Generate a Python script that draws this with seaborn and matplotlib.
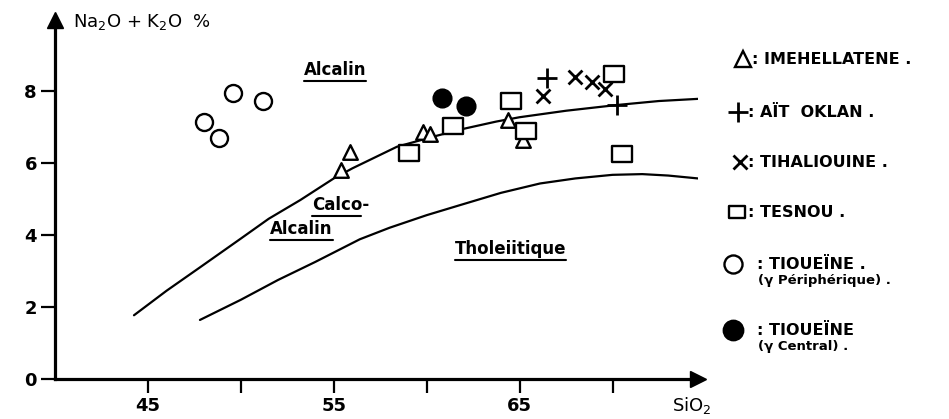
import numpy as np
import pandas as pd
import matplotlib
matplotlib.use("Agg")
import matplotlib.pyplot as plt
from matplotlib.lines import Line2D
from matplotlib.path import Path
import seaborn as sns

# SiO2 / Na2O+K2O values
imeh_x = [55.4, 55.9, 59.8, 60.2, 64.4, 65.2]
imeh_y = [5.8, 6.3, 6.85, 6.8, 7.2, 6.65]
oklan_x = [66.5, 70.25]
oklan_y = [8.35, 7.6]
tihal_x = [66.25, 68.0, 68.9, 69.6]
tihal_y = [7.85, 8.4, 8.25, 8.05]
tesnou_x = [59.05, 61.4, 64.55, 65.35, 70.1, 70.5]
tesnou_y = [6.27, 7.03, 7.72, 6.9, 8.47, 6.24]
periph_x = [48.0, 48.8, 49.6, 51.2]
periph_y = [7.15, 6.7, 7.95, 7.72]
central_x = [60.8, 62.1]
central_y = [7.8, 7.58]

# boundary curves (alcalin / calco-alcalin, calco-alcalin / tholeiitique)
upper_x = [44.25, 46.0, 47.8, 50.0, 51.5, 53.2, 55.0, 56.0, 58.4, 60.5, 62.0, 63.75, 65.0, 67.5, 70.25, 72.5, 74.6]
upper_y = [1.77, 2.45, 3.1, 3.9, 4.45, 4.97, 5.57, 5.85, 6.45, 6.75, 6.95, 7.15, 7.27, 7.45, 7.61, 7.72, 7.78]
lower_x = [47.8, 50.0, 52.0, 54.0, 56.4, 58.0, 60.0, 61.8, 64.0, 66.1, 68.0, 70.0, 71.6, 73.0, 74.6]
lower_y = [1.64, 2.2, 2.75, 3.25, 3.88, 4.2, 4.55, 4.83, 5.17, 5.43, 5.57, 5.67, 5.69, 5.65, 5.57]

xticks = [45, 50, 55, 60, 65, 70]
xtick_labels = ["45", "", "55", "", "65", ""]
yticks = [0, 2, 4, 6, 8]

sns.set_style("ticks")
plt.rcParams["font.family"] = ["DejaVu Sans"]
for k in ["text.color", "axes.labelcolor", "xtick.color", "ytick.color", "axes.edgecolor"]:
    plt.rcParams[k] = "black"

W, H = 949, 419
fig = plt.figure(figsize=(W / 100, H / 100), dpi=100)
ax = fig.add_axes([55 / W, 40 / H, (698 - 55) / W, (379 - 20) / H])

# wide rectangle marker like the hand-drawn squares
rect = Path([(-1.3, -1), (1.3, -1), (1.3, 1), (-1.3, 1), (-1.3, -1)],
            [Path.MOVETO, Path.LINETO, Path.LINETO, Path.LINETO, Path.CLOSEPOLY])

sns.lineplot(x=upper_x, y=upper_y, estimator=None, color="k", lw=1.6, ax=ax, zorder=1)
sns.lineplot(x=lower_x, y=lower_y, estimator=None, color="k", lw=1.6, ax=ax, zorder=1)

open_kw = dict(facecolor="white", edgecolor="k", linewidth=1.7, ax=ax, zorder=3)
sns.scatterplot(x=imeh_x, y=imeh_y, marker="^", s=110, **open_kw)
sns.scatterplot(x=tesnou_x, y=tesnou_y, marker=rect, s=200, **open_kw)
sns.scatterplot(x=periph_x, y=periph_y, marker="o", s=150, **open_kw)
sns.scatterplot(x=central_x, y=central_y, marker="o", s=180, color="k", edgecolor="k", ax=ax, zorder=3)
sns.scatterplot(x=oklan_x, y=oklan_y, marker="+", s=220, color="k", linewidth=2, ax=ax, zorder=3)
sns.scatterplot(x=tihal_x, y=tihal_y, marker="x", s=100, color="k", linewidth=2, ax=ax, zorder=3)

ax.set_xlim(40, 74.6)
ax.set_ylim(0, 9.97)
ax.set_xticks(xticks)
ax.set_xticklabels(xtick_labels)
ax.set_yticks(yticks)
ax.tick_params(direction="out", length=10, width=1.6, labelsize=13, pad=3, colors="k")
for lab in ax.get_xticklabels() + ax.get_yticklabels():
    lab.set_fontweight("bold")
for s in ["top", "right"]:
    ax.spines[s].set_visible(False)
for s in ["left", "bottom"]:
    ax.spines[s].set_linewidth(2.3)
    ax.spines[s].set_color("k")
ax.set_xlabel("")
ax.set_ylabel("")
ax.plot(1, 0, marker=">", ms=11, color="k", transform=ax.transAxes, clip_on=False)
ax.plot(0, 1, marker="^", ms=11, color="k", transform=ax.transAxes, clip_on=False)

fig.text(73 / W, 1 - 22 / H, "Na$_2$O + K$_2$O  %", fontsize=13, va="center", ha="left")
fig.text(672 / W, 1 - 405 / H, "SiO$_2$", fontsize=13, va="center", ha="left")

# region names, underlined
regions = [("Alcalin", 304, 70), ("Calco-", 312, 205), ("Alcalin", 270, 229), ("Tholeiitique", 455, 249)]
texts = []
for name, px, py in regions:
    texts.append(fig.text(px / W, 1 - py / H, name, fontsize=12, fontweight="bold", va="center", ha="left"))
fig.canvas.draw()
renderer = fig.canvas.get_renderer()
inv = fig.transFigure.inverted()
for t in texts:
    bb = t.get_window_extent(renderer).transformed(inv)
    x1 = bb.x1 if not t.get_text().endswith("-") else bb.x1 - (bb.x1 - bb.x0) * 0.15
    fig.add_artist(Line2D([bb.x0, x1], [bb.y0 - 0.004, bb.y0 - 0.004], color="k", lw=1.5))

# hand-drawn key on the right
key = fig.add_axes([0, 0, 1, 1])
key.set_xlim(0, W)
key.set_ylim(H, 0)
key.axis("off")
entries = [
    ("^", 743, 59, 752, ": IMEHELLATENE .", None, dict(mfc="white", ms=11)),
    ("+", 738, 112, 748, ": AÏT  OKLAN .", None, dict(ms=15, mew=2)),
    ("x", 740, 162, 748, ": TIHALIOUINE .", None, dict(ms=10, mew=2)),
    (rect, 737, 212, 748, ": TESNOU .", None, dict(mfc="white", ms=12)),
    ("o", 733, 264, 757, ": TIOUEÏNE .", "(γ Périphérique) .", dict(mfc="white", ms=13)),
    ("o", 733, 330, 757, ": TIOUEÏNE", "(γ Central) .", dict(mfc="k", ms=14)),
]
for m, mx, my, tx, lab, sub, kw in entries:
    key.plot(mx, my, marker=m, color="k", mec="k", mew=kw.pop("mew", 1.7), **kw)
    key.text(tx, my, lab, fontsize=11.5, fontweight="bold", va="center", ha="left")
    if sub:
        key.text(758, my + 16, sub, fontsize=9.5, fontweight="bold", va="center", ha="left")

fig.savefig("out.png", dpi=100, facecolor="white")
